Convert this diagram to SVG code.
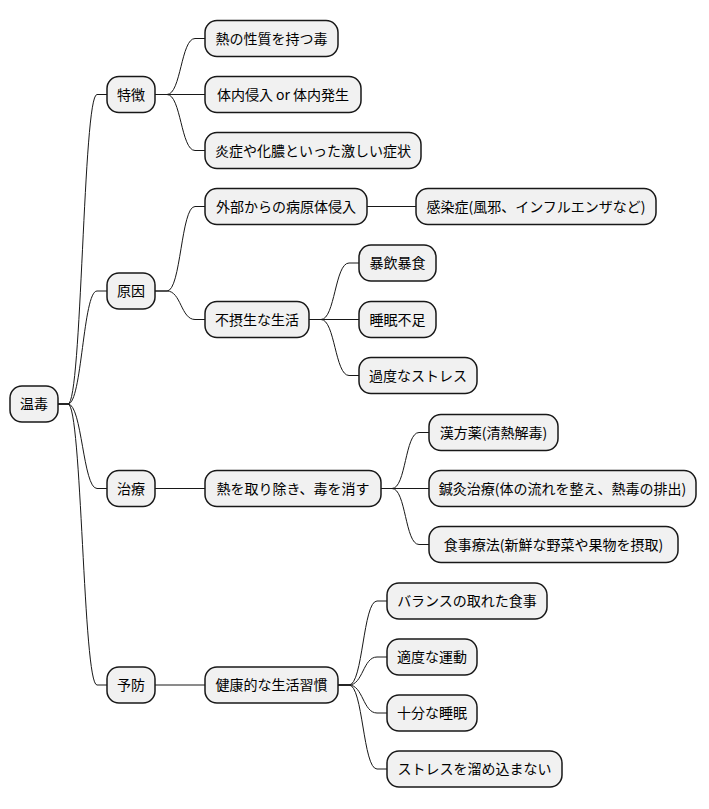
<svg xmlns="http://www.w3.org/2000/svg" width="709" height="809" viewBox="0 0 709 809">
<style>
.n rect{fill:#F1F1F1;stroke:#181818;stroke-width:1.5}
.n text{font-family:"Noto Sans CJK JP","Noto Sans",sans-serif;font-size:14px;fill:#000;text-anchor:middle}
#links path{fill:none;stroke:#181818;stroke-width:1}
</style>
<rect width="709" height="809" fill="#fff"/>
<g id="links">
<path d="M58,404 L68,404 C82,404 83,94.5 97,94.5 L107,94.5"/>
<path d="M58,404 L68,404 C82,404 83,291 97,291 L107,291"/>
<path d="M58,404 L68,404 C82,404 83,488.5 97,488.5 L107,488.5"/>
<path d="M58,404 L68,404 C82,404 83,685 97,685 L107,685"/>
<path d="M155,94.5 L167,94.5 C181,94.5 181,38.5 195,38.5 L205,38.5"/>
<path d="M155,94.5 L205,94.5"/>
<path d="M155,94.5 L167,94.5 C181,94.5 181,150.5 195,150.5 L205,150.5"/>
<path d="M155,291 L167,291 C181,291 181,206.5 195,206.5 L205,206.5"/>
<path d="M155,291 L167,291 C181,291 181,319.5 195,319.5 L205,319.5"/>
<path d="M155,488.5 L205,488.5"/>
<path d="M155,685 L205,685"/>
<path d="M367,206.5 L416,206.5"/>
<path d="M309,319.5 L321,319.5 C335,319.5 335,263 349,263 L359,263"/>
<path d="M309,319.5 L359,319.5"/>
<path d="M309,319.5 L321,319.5 C335,319.5 335,375.5 349,375.5 L359,375.5"/>
<path d="M381,488.5 L392,488.5 C406,488.5 405,432.5 419,432.5 L429,432.5"/>
<path d="M381,488.5 L429,488.5"/>
<path d="M381,488.5 L392,488.5 C406,488.5 405,544.5 419,544.5 L429,544.5"/>
<path d="M338,685 L349,685 C363,685 363,601 377,601 L387,601"/>
<path d="M338,685 L349,685 C363,685 363,657 377,657 L387,657"/>
<path d="M338,685 L349,685 C363,685 363,713 377,713 L387,713"/>
<path d="M338,685 L349,685 C363,685 363,769 377,769 L387,769"/>
</g>
<g id="root" class="n"><rect x="10" y="386" width="48" height="36" rx="12"/><text x="34" y="409">温毒</text></g>
<g id="tokucho" class="n"><rect x="107" y="76.5" width="48" height="36" rx="12"/><text x="131" y="99.5">特徴</text></g>
<g id="gen-in" class="n"><rect x="107" y="273" width="48" height="36" rx="12"/><text x="131" y="296">原因</text></g>
<g id="chiryo" class="n"><rect x="107" y="470.5" width="48" height="36" rx="12"/><text x="131" y="493.5">治療</text></g>
<g id="yobo" class="n"><rect x="107" y="667" width="48" height="36" rx="12"/><text x="131" y="690">予防</text></g>
<g id="t1" class="n"><rect x="205" y="20.5" width="133" height="36" rx="12"/><text x="271.5" y="43.5">熱の性質を持つ毒</text></g>
<g id="t2" class="n"><rect x="205" y="76.5" width="156" height="36" rx="12"/><text x="283" y="99.5">体内侵入 or 体内発生</text></g>
<g id="t3" class="n"><rect x="205" y="132.5" width="216" height="36" rx="12"/><text x="313" y="155.5">炎症や化膿といった激しい症状</text></g>
<g id="g1" class="n"><rect x="205" y="188.5" width="162" height="36" rx="12"/><text x="286" y="211.5">外部からの病原体侵入</text></g>
<g id="g2" class="n"><rect x="205" y="301.5" width="104" height="36" rx="12"/><text x="257" y="324.5">不摂生な生活</text></g>
<g id="c1" class="n"><rect x="205" y="470.5" width="176" height="36" rx="12"/><text x="293" y="493.5">熱を取り除き、毒を消す</text></g>
<g id="y1" class="n"><rect x="205" y="667" width="133" height="36" rx="12"/><text x="271.5" y="690">健康的な生活習慣</text></g>
<g id="g1a" class="n"><rect x="416" y="188.5" width="240" height="36" rx="12"/><text x="536" y="211.5">感染症(風邪、インフルエンザなど)</text></g>
<g id="g2a" class="n"><rect x="359" y="245" width="77" height="36" rx="12"/><text x="397.5" y="268">暴飲暴食</text></g>
<g id="g2b" class="n"><rect x="359" y="301.5" width="77" height="36" rx="12"/><text x="397.5" y="324.5">睡眠不足</text></g>
<g id="g2c" class="n"><rect x="359" y="357.5" width="118" height="36" rx="12"/><text x="418" y="380.5">過度なストレス</text></g>
<g id="c1a" class="n"><rect x="429" y="414.5" width="129" height="36" rx="12"/><text x="493.5" y="437.5">漢方薬(清熱解毒)</text></g>
<g id="c1b" class="n"><rect x="429" y="470.5" width="267" height="36" rx="12"/><text x="562.5" y="493.5">鍼灸治療(体の流れを整え、熱毒の排出)</text></g>
<g id="c1c" class="n"><rect x="429" y="526.5" width="249" height="36" rx="12"/><text x="553.5" y="549.5">食事療法(新鮮な野菜や果物を摂取)</text></g>
<g id="y1a" class="n"><rect x="387" y="583" width="160" height="36" rx="12"/><text x="467" y="606">バランスの取れた食事</text></g>
<g id="y1b" class="n"><rect x="387" y="639" width="90" height="36" rx="12"/><text x="432" y="662">適度な運動</text></g>
<g id="y1c" class="n"><rect x="387" y="695" width="90" height="36" rx="12"/><text x="432" y="718">十分な睡眠</text></g>
<g id="y1d" class="n"><rect x="387" y="751" width="175" height="36" rx="12"/><text x="474.5" y="774">ストレスを溜め込まない</text></g>
</svg>
